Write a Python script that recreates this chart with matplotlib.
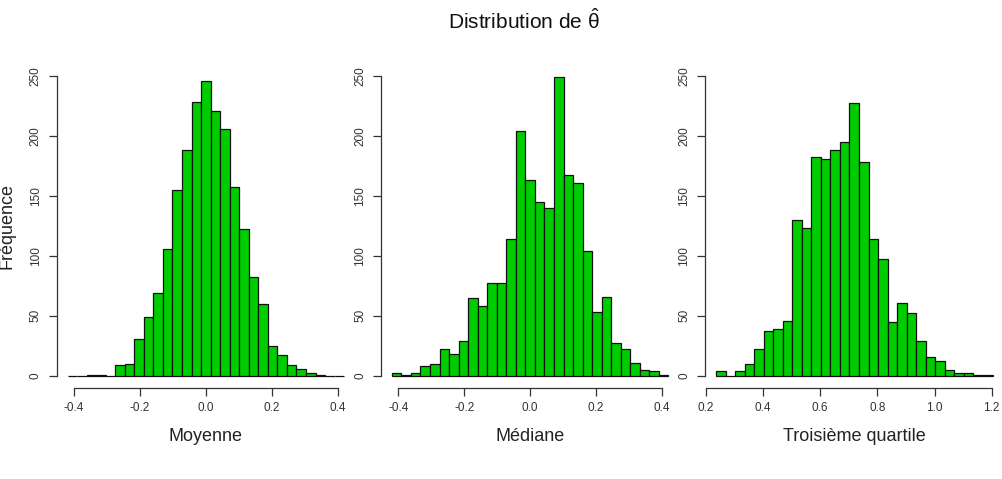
import numpy as np
import matplotlib
matplotlib.use("Agg")
import matplotlib.pyplot as plt

plt.rcParams['font.family'] = ['Liberation Sans', 'DejaVu Sans']
plt.rcParams['mathtext.fontset'] = 'custom'
plt.rcParams['mathtext.rm'] = 'Liberation Sans'
plt.rcParams['mathtext.it'] = 'Liberation Sans'

# ---- data (counts per bin) ----
titles = ["Moyenne", "Médiane", "Troisième quartile"]
moyenne_counts = [0, 0, 1, 1, 0, 9, 10, 31, 49, 69, 106, 155, 188, 228, 246,
                  221, 206, 157, 122, 82, 60, 25, 17, 9, 6, 2, 1, 0, 0]
mediane_counts = [2, 1, 2, 8, 10, 22, 18, 29, 65, 58, 77, 77, 114, 204, 163,
                  145, 140, 249, 167, 161, 104, 53, 66, 27, 22, 11, 5, 4, 1]
quartile_counts = [4, 0, 4, 10, 22, 37, 39, 46, 130, 123, 182, 181, 188, 195, 227,
                   178, 114, 97, 45, 61, 52, 29, 16, 12, 5, 2, 2, 1, 1]
moyenne_range = (-0.42, 0.42)
mediane_range = (-0.42, 0.42)
quartile_range = (0.235, 1.203)
xticks_pm = [-0.4, -0.2, 0.0, 0.2, 0.4]
xticks_q = [0.2, 0.4, 0.6, 0.8, 1.0, 1.2]
yticks = [0, 50, 100, 150, 200, 250]
ylim_data = (0, 250)

panels = [
    (moyenne_counts, moyenne_range, xticks_pm, titles[0]),
    (mediane_counts, mediane_range, xticks_pm, titles[1]),
    (quartile_counts, quartile_range, xticks_q, titles[2]),
]

W, H = 1002, 479
fig = plt.figure(figsize=(W / 100, H / 100), dpi=100)
fig.patch.set_facecolor('white')

lefts_px = [56.5, 380.8, 704.9]
width_px = 298.7
top_px, bottom_px = 63.7, 387.7

axcol = '#333333'
for i, (counts, (lo, hi), xt, lab) in enumerate(panels):
    ax = fig.add_axes([lefts_px[i] / W, 1 - bottom_px / H,
                       width_px / W, (bottom_px - top_px) / H])
    n = len(counts)
    edges = np.linspace(lo, hi, n + 1)
    ax.bar(edges[:-1], counts, width=np.diff(edges), align='edge',
           color='#00CD00', edgecolor='#111111', linewidth=0.9)
    ext = 0.04 * (hi - lo)
    ax.set_xlim(lo - ext, hi + ext)
    yext = 0.04 * (ylim_data[1] - ylim_data[0])
    ax.set_ylim(ylim_data[0] - yext, ylim_data[1] + yext)
    for s in ['top', 'right']:
        ax.spines[s].set_visible(False)
    ax.spines['left'].set_bounds(yticks[0], yticks[-1])
    ax.spines['bottom'].set_bounds(xt[0], xt[-1])
    for s in ['left', 'bottom']:
        ax.spines[s].set_color(axcol)
        ax.spines[s].set_linewidth(0.9)
    ax.set_xticks(xt)
    ax.set_xticklabels([f"{v:.1f}" for v in xt])
    ax.set_yticks(yticks)
    ax.set_yticklabels([str(v) for v in yticks], rotation=90, va='center')
    ax.tick_params(axis='both', direction='out', length=5.5, width=0.9,
                   color=axcol, labelcolor='#333333', labelsize=8.5)
    ax.tick_params(axis='x', pad=5)
    ax.tick_params(axis='y', pad=5)
    ax.set_xlabel(lab, fontsize=13, color='#222222', va='center')
    ax.xaxis.set_label_coords(0.5, -49 / (bottom_px - top_px))
    if i == 0:
        ax.set_ylabel("Fréquence", fontsize=13, color='#222222', va='center')
        ax.yaxis.set_label_coords((7 - lefts_px[0]) / width_px, 0.5)
    ax.set_facecolor('none')

fig.text(524 / W, 1 - 21 / H, r'Distribution de $\hat{\theta}$',
         ha='center', va='center', fontsize=15, color='#111111')

fig.savefig('out.png', dpi=100)
